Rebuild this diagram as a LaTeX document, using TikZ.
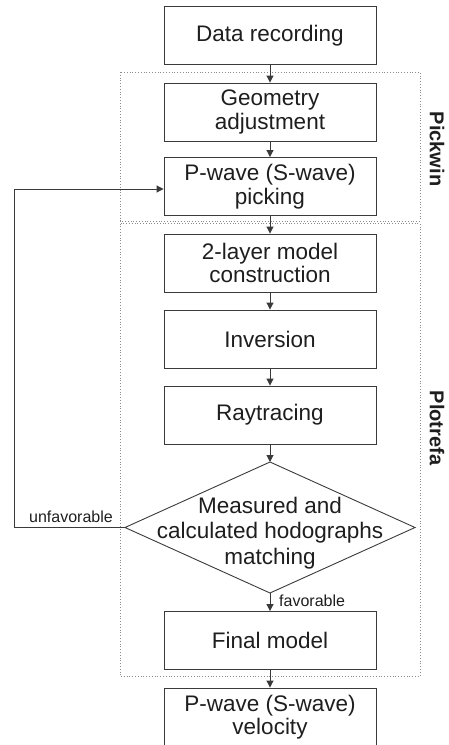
\documentclass[tikz,border=0pt]{standalone}
\usepackage{fontspec}
\setmainfont{Liberation Sans}
\usetikzlibrary{arrows.meta}
\definecolor{textc}{HTML}{1E1E1E}
\definecolor{linegray}{HTML}{3A3A3A}
\definecolor{dotgray}{HTML}{8C8C8C}
\begin{document}
\begin{tikzpicture}[x=1pt,y=-1pt,
  box/.style={draw=linegray, line width=0.9pt, minimum width=212pt, minimum height=58pt,
    inner sep=0pt, align=center, text=textc, font=\fontsize{22.5}{23.5}\selectfont},
  grp/.style={draw=dotgray, dotted, line width=0.8pt},
  arr/.style={-{Triangle[length=7pt,width=7pt]}, line width=1pt, draw=linegray},
  conn/.style={line width=0.9pt, draw=linegray},
  side/.style={font=\bfseries\fontsize{20}{20}\selectfont, rotate=-90, text=textc},
  lbl/.style={font=\fontsize{16}{16}\selectfont, text=textc, inner sep=0pt}]
\useasboundingbox (0,0) rectangle (448,745);
% group frames
\draw[grp] (120,72) rectangle (420,221);
\draw[grp] (120,223.5) rectangle (420,676);
\node[side] (pickwin) at (437,149) {Pickwin};
\node[side] (plotrefa) at (437,428) {Plotrefa};
% boxes
\node[box] (data) at (270,35.5) {Data recording};
\node[box] (geo) at (270,112) {Geometry\\adjustment};
\node[box] (pick) at (270,186.5) {P-wave (S-wave)\\picking};
\node[box] (layer) at (270,263) {2-layer model\\construction};
\node[box] (inv) at (270,339) {Inversion};
\node[box] (ray) at (270,415) {Raytracing};
\node[box] (final) at (270,640.5) {Final model};
\node[box] (vel) at (270,717) {P-wave (S-wave)\\velocity};
% decision
\coordinate (dt) at (270,462);
\coordinate (dr) at (415,527.5);
\coordinate (db) at (270,593);
\coordinate (dl) at (125,527.5);
\draw[conn] (dt) -- (dr) -- (db) -- (dl) -- cycle;
\node[align=center, text=textc, font=\fontsize{22.5}{25.5}\selectfont, inner sep=0pt] (dec) at (270,533) {Measured and\\calculated hodographs\\matching};
% connectors
\draw[arr] (data) -- (geo);
\draw[arr] (geo) -- (pick);
\draw[arr] (pick) -- (layer);
\draw[arr] (layer) -- (inv);
\draw[arr] (inv) -- (ray);
\draw[arr] (ray) -- (dt);
\draw[arr] (db) -- (final);
\draw[arr] (final) -- (vel);
\coordinate (fb1) at (14,527.5);
\coordinate (fb2) at (14,189);
\draw[arr] (dl) -- (fb1) -- (fb2) -- (pick.west |- fb2);
\node[lbl, anchor=base east] (unf) at (113,522) {unfavorable};
\node[lbl, anchor=base west] (fav) at (279,606) {favorable};
\end{tikzpicture}
\end{document}
